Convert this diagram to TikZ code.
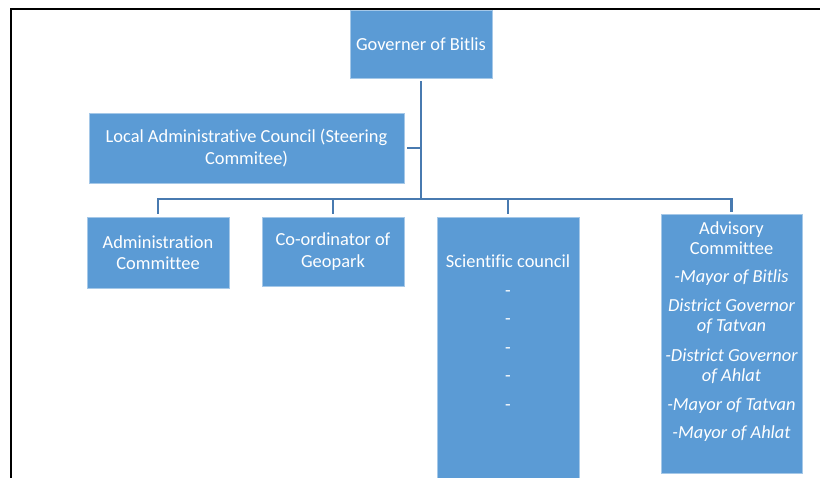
\documentclass[tikz,border=0pt]{standalone}
\usepackage{fontspec}
\setmainfont[Ligatures={NoCommon}]{Carlito}
\usepackage{xcolor}
\definecolor{boxblue}{RGB}{91,155,213}
\definecolor{linkblue}{RGB}{72,122,176}
\tikzset{
	unit/.style={fill=boxblue,draw=boxblue!55!white,line width=0.8pt,text=white,align=center,inner sep=0pt,
		font=\fontsize{18.4}{21.5}\selectfont},
	blurb/.style={text=white,align=center,inner sep=0pt,font=\fontsize{18.4}{20}\selectfont},
	link/.style={draw=linkblue,line width=2.6pt},
}

\begin{document}
\begin{tikzpicture}[x=1pt,y=-1pt]
	\clip (0,0) rectangle (820,477);
	\fill[white] (0,0) rectangle (820,477);
	\draw[line width=2.2pt] (11,478) -- (11,9) -- (821,9);
	\node[unit,minimum width=142pt,minimum height=68pt] (gov) at (421,44) {Governer of Bitlis};
	\node[unit,minimum width=315pt,minimum height=70pt] (local) at (246.5,148) {Local Administrative Council (Steering\\Commitee)};
	\node[unit,minimum width=142pt,minimum height=71pt] (admin) at (158,252.5) {Administration\\Committee};
	\node[unit,minimum width=142pt,minimum height=69pt] (coord) at (333,251.5) {Co-ordinator of\\Geopark};
	\node[unit,minimum width=142pt,minimum height=290pt] (sci) at (508,362) {};
	\node[unit,minimum width=141pt,minimum height=259pt] (adv) at (731.5,343.5) {};
	\node[blurb,anchor=north] (scitext) at ([yshift=-38pt]sci.north) {Scientific council\\[8.6pt]-\\[8.6pt]-\\[8.6pt]-\\[8.6pt]-\\[8.6pt]-};
	\node[blurb,anchor=north] (advtext) at ([yshift=-8pt]adv.north) {Advisory\\Committee\\[8pt]\itshape -Mayor of Bitlis\\[9pt]\itshape District Governor\\\itshape of Tatvan\\[10pt]\itshape -District Governor\\\itshape of Ahlat\\[9pt]\itshape -Mayor of Tatvan\\[8pt]\itshape -Mayor of Ahlat};
	\coordinate (hub) at (421,199);
	\draw[link,shorten <=3pt] (gov.south) -- (hub);
	\draw[link,shorten <=3pt] (local.east) -- (local.east -| hub);
	\draw[link,shorten <=3pt,shorten >=2pt] (admin.north) |- (hub) -| (adv.north);
	\draw[link,shorten <=3pt] (coord.north) -- (coord.north |- hub);
	\draw[link,shorten <=3pt] (sci.north) -- (sci.north |- hub);
\end{tikzpicture}
\end{document}
